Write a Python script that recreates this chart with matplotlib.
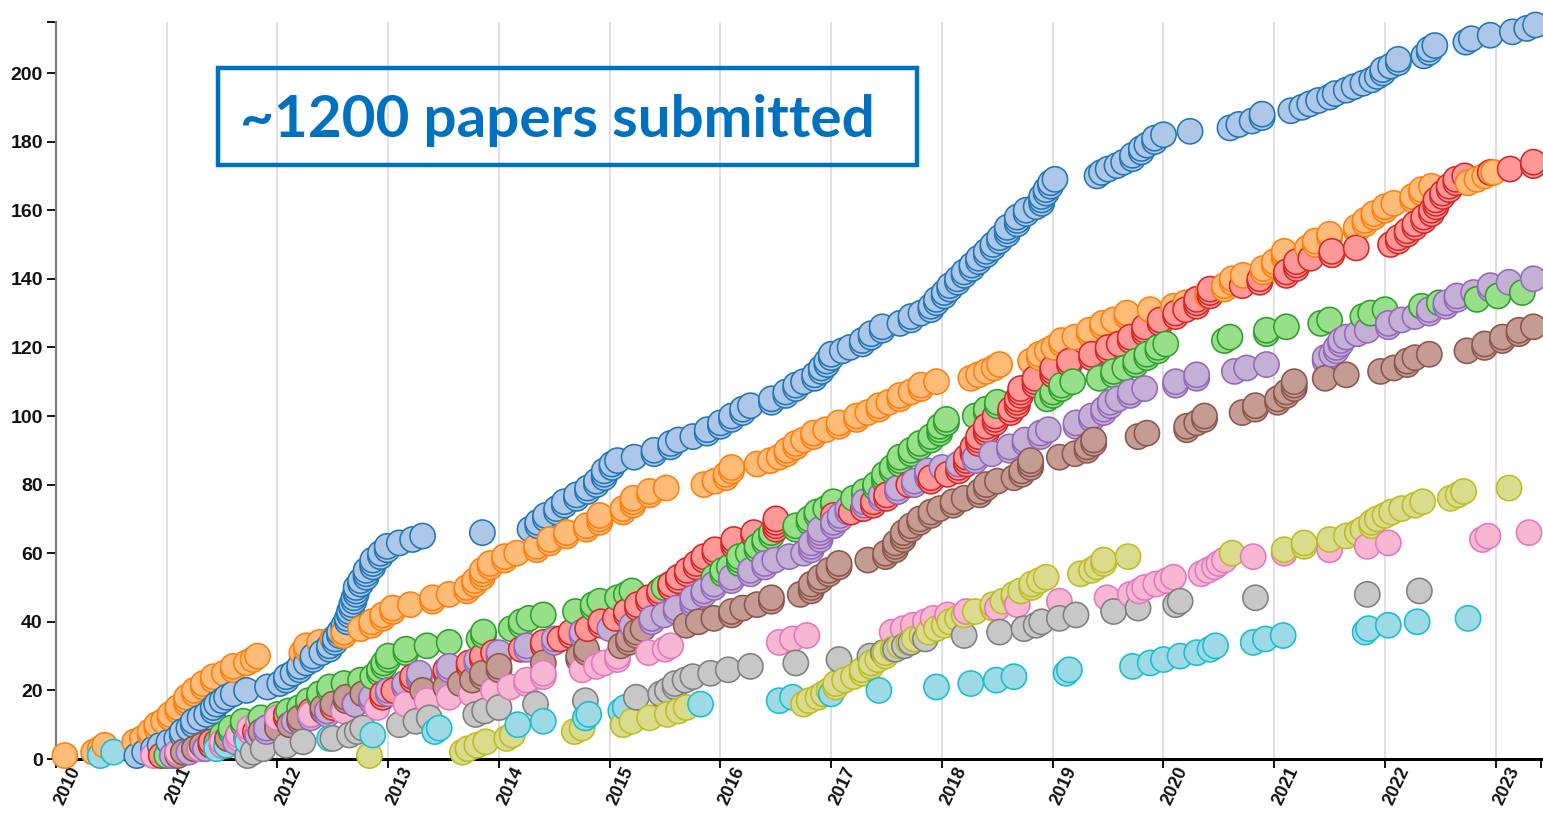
import numpy as np
import matplotlib
matplotlib.use('Agg')
import matplotlib.pyplot as plt
from matplotlib.patches import Rectangle
from matplotlib.transforms import ScaledTranslation

# each series: submission dates (decimal years) and the running paper total at that date
blue_dates = [2010.73, 2010.80, 2010.88, 2010.94, 2011.02, 2011.09, 2011.14, 2011.20, 2011.24, 2011.30,
              2011.36, 2011.42, 2011.45, 2011.50, 2011.54, 2011.60, 2011.72, 2011.91, 2012.02, 2012.08,
              2012.14, 2012.20, 2012.26, 2012.32, 2012.40, 2012.47, 2012.52, 2012.56, 2012.60, 2012.63,
              2012.65, 2012.67, 2012.69, 2012.71, 2012.75, 2012.80, 2012.86, 2012.93, 2012.99, 2013.10,
              2013.22, 2013.31, 2013.85, 2014.28, 2014.35, 2014.42, 2014.52, 2014.59, 2014.70, 2014.80,
              2014.88, 2014.95, 2015.02, 2015.07, 2015.22, 2015.40, 2015.55, 2015.62, 2015.75, 2015.88,
              2016.00, 2016.10, 2016.20, 2016.27, 2016.46, 2016.59, 2016.68, 2016.75, 2016.85, 2016.91,
              2016.96, 2017.00, 2017.10, 2017.17, 2017.28, 2017.36, 2017.46, 2017.62, 2017.72, 2017.81,
              2017.90, 2017.95, 2018.02, 2018.07, 2018.14, 2018.20, 2018.27, 2018.33, 2018.40, 2018.46,
              2018.52, 2018.59, 2018.68, 2018.76, 2018.85, 2018.90, 2018.94, 2018.98, 2019.02, 2019.40,
              2019.44, 2019.50, 2019.58, 2019.64, 2019.72, 2019.80, 2019.85, 2019.92, 2020.00, 2020.24,
              2020.60, 2020.68, 2020.80, 2020.89, 2021.15, 2021.25, 2021.32, 2021.40, 2021.50, 2021.55,
              2021.65, 2021.72, 2021.80, 2021.88, 2021.93, 2021.98, 2022.05, 2022.12, 2022.35, 2022.40,
              2022.45, 2022.73, 2022.78, 2022.95, 2023.15, 2023.28, 2023.36]
blue_total = [1, 2, 3, 4, 5, 6, 8, 9, 11, 12,
              13, 15, 16, 17, 18, 19, 20, 21, 22, 24,
              25, 27, 28, 30, 31, 33, 35, 37, 39, 41,
              43, 45, 47, 50, 52, 55, 58, 60, 62, 63,
              64, 65, 66, 67, 69, 71, 73, 75, 77, 79,
              81, 84, 86, 87, 88, 90, 92, 93, 94, 96,
              98, 100, 102, 103, 105, 107, 109, 110, 112, 114,
              116, 118, 119, 120, 122, 124, 126, 127, 129, 130,
              132, 134, 136, 138, 140, 142, 144, 146, 148, 150,
              152, 155, 158, 160, 161, 164, 166, 168, 169, 170,
              171, 172, 173, 174, 176, 178, 179, 181, 182, 183,
              184, 185, 186, 188, 189, 190, 191, 192, 193, 194,
              195, 196, 197, 198, 199, 201, 202, 204, 205, 207,
              208, 209, 210, 211, 212, 213, 214]

orange_dates = [2010.08, 2010.34, 2010.40, 2010.44, 2010.71, 2010.78, 2010.85, 2010.91, 2010.97, 2011.03,
                2011.10, 2011.18, 2011.25, 2011.33, 2011.42, 2011.52, 2011.60, 2011.72, 2011.78, 2011.82,
                2012.22, 2012.26, 2012.38, 2012.50, 2012.60, 2012.75, 2012.85, 2012.95, 2013.04, 2013.20,
                2013.40, 2013.55, 2013.71, 2013.78, 2013.85, 2013.92, 2014.05, 2014.16, 2014.34, 2014.46,
                2014.61, 2014.79, 2014.91, 2015.12, 2015.21, 2015.36, 2015.51, 2015.85, 2015.95, 2016.05,
                2016.10, 2016.33, 2016.45, 2016.53, 2016.60, 2016.68, 2016.75, 2016.84, 2016.95, 2017.07,
                2017.23, 2017.33, 2017.43, 2017.52, 2017.62, 2017.72, 2017.81, 2017.95, 2018.26, 2018.33,
                2018.40, 2018.47, 2018.52, 2018.80, 2018.88, 2018.95, 2019.01, 2019.08, 2019.20, 2019.33,
                2019.45, 2019.55, 2019.67, 2019.88, 2020.09, 2020.20, 2020.30, 2020.40, 2020.55, 2020.62,
                2020.72, 2020.90, 2021.00, 2021.09, 2021.30, 2021.37, 2021.50, 2021.74, 2021.82, 2021.90,
                2022.00, 2022.08, 2022.25, 2022.33, 2022.42, 2022.75, 2022.83, 2022.90, 2022.98]
orange_total = [1, 2, 3, 4, 5, 6, 8, 10, 11, 13,
                15, 18, 20, 22, 24, 25, 27, 28, 29, 30,
                31, 33, 34, 35, 37, 38, 40, 42, 44, 45,
                47, 48, 50, 52, 55, 57, 59, 60, 62, 64,
                66, 68, 71, 73, 76, 78, 79, 80, 81, 83,
                85, 86, 87, 88, 90, 92, 93, 95, 96, 98,
                100, 101, 103, 104, 106, 107, 109, 110, 111, 112,
                113, 114, 115, 116, 118, 119, 120, 122, 123, 125,
                127, 128, 130, 131, 132, 133, 134, 136, 138, 140,
                141, 143, 145, 148, 149, 151, 153, 155, 157, 159,
                161, 162, 164, 166, 167, 168, 169, 170, 171]

red_dates = [2010.95, 2011.10, 2011.25, 2011.40, 2011.55, 2011.65, 2011.80, 2011.90, 2012.00, 2012.08,
             2012.30, 2012.50, 2012.70, 2012.85, 2012.95, 2013.05, 2013.15, 2013.22, 2013.52, 2013.73,
             2013.85, 2013.95, 2014.20, 2014.40, 2014.55, 2014.65, 2014.80, 2014.92, 2015.05, 2015.15,
             2015.25, 2015.35, 2015.45, 2015.55, 2015.62, 2015.70, 2015.78, 2015.85, 2015.95, 2016.12,
             2016.30, 2016.50, 2017.02, 2017.18, 2017.29, 2017.38, 2017.50, 2017.60, 2017.70, 2017.90,
             2018.05, 2018.15, 2018.22, 2018.28, 2018.33, 2018.40, 2018.48, 2018.62, 2018.68, 2018.71,
             2018.84, 2019.00, 2019.15, 2019.35, 2019.50, 2019.60, 2019.70, 2019.83, 2019.97, 2020.11,
             2020.20, 2020.30, 2020.42, 2020.71, 2020.87, 2021.11, 2021.20, 2021.33, 2021.52, 2021.74,
             2022.05, 2022.12, 2022.20, 2022.27, 2022.35, 2022.42, 2022.46, 2022.52, 2022.58, 2022.64,
             2022.72, 2022.95, 2023.13, 2023.34]
red_total = [1, 2, 3, 5, 6, 7, 8, 9, 11, 13,
             14, 15, 16, 17, 19, 20, 22, 24, 26, 28,
             30, 31, 32, 34, 35, 37, 38, 40, 41, 43,
             45, 47, 49, 51, 53, 55, 57, 59, 61, 64,
             66, 70, 71, 72, 73, 75, 77, 79, 80, 82,
             83, 85, 88, 91, 94, 97, 100, 102, 105, 108,
             111, 114, 116, 118, 120, 121, 123, 126, 128, 130,
             131, 134, 137, 138, 140, 142, 145, 146, 148, 149,
             150, 152, 154, 156, 158, 160, 163, 165, 167, 169,
             170, 171, 172, 174]

green_dates = [2011.00, 2011.15, 2011.30, 2011.40, 2011.50, 2011.58, 2011.69, 2011.85, 2012.00, 2012.10,
               2012.20, 2012.28, 2012.38, 2012.47, 2012.60, 2012.75, 2012.86, 2012.92, 2012.96, 2013.00,
               2013.16, 2013.35, 2013.55, 2013.82, 2013.86, 2014.11, 2014.20, 2014.27, 2014.40, 2014.69,
               2014.85, 2014.91, 2015.07, 2015.15, 2015.20, 2015.49, 2015.55, 2015.62, 2015.94, 2016.02,
               2016.08, 2016.17, 2016.25, 2016.33, 2016.40, 2016.46, 2016.68, 2016.80, 2016.87, 2016.95,
               2017.02, 2017.20, 2017.30, 2017.40, 2017.48, 2017.55, 2017.62, 2017.72, 2017.80, 2017.90,
               2017.98, 2018.04, 2018.30, 2018.40, 2018.50, 2018.95, 2019.00, 2019.08, 2019.18, 2019.42,
               2019.55, 2019.65, 2019.75, 2019.85, 2019.95, 2020.02, 2020.55, 2020.60, 2020.93, 2021.11,
               2021.42, 2021.50, 2021.80, 2021.87, 2022.00, 2022.33, 2022.49, 2022.83, 2023.02, 2023.24]
green_total = [1, 2, 3, 5, 7, 9, 11, 12, 13, 14,
               15, 17, 19, 21, 22, 23, 24, 26, 28, 30,
               32, 33, 34, 35, 37, 38, 40, 41, 42, 43,
               45, 46, 47, 48, 49, 50, 51, 52, 53, 55,
               56, 59, 60, 62, 64, 66, 68, 70, 72, 73,
               75, 76, 78, 80, 83, 85, 88, 90, 92, 94,
               97, 99, 100, 102, 104, 105, 107, 109, 110, 111,
               113, 114, 116, 118, 120, 121, 122, 123, 125, 126,
               127, 128, 129, 130, 131, 132, 133, 134, 135, 136]

purple_dates = [2011.05, 2011.20, 2011.35, 2011.50, 2011.62, 2011.72, 2011.82, 2011.90, 2012.00, 2012.15,
                2012.30, 2012.45, 2012.60, 2012.70, 2012.85, 2013.00, 2013.15, 2013.28, 2013.55, 2013.80,
                2014.00, 2014.25, 2014.50, 2014.75, 2015.00, 2015.20, 2015.38, 2015.49, 2015.60, 2015.75,
                2015.85, 2015.94, 2016.10, 2016.27, 2016.40, 2016.49, 2016.62, 2016.75, 2016.82, 2016.90,
                2017.02, 2017.08, 2017.15, 2017.30, 2017.45, 2017.60, 2017.75, 2017.87, 2018.00, 2018.15,
                2018.30, 2018.45, 2018.61, 2018.75, 2018.89, 2018.96, 2019.21, 2019.35, 2019.46, 2019.52,
                2019.59, 2019.70, 2019.83, 2020.11, 2020.30, 2020.64, 2020.75, 2020.93, 2021.46, 2021.52,
                2021.56, 2021.60, 2021.65, 2021.75, 2021.84, 2022.03, 2022.15, 2022.27, 2022.40, 2022.55,
                2022.65, 2022.80, 2022.95, 2023.12, 2023.34]
purple_total = [1, 2, 3, 4, 5, 6, 7, 9, 10, 11,
                12, 14, 15, 16, 18, 20, 22, 25, 27, 29,
                31, 33, 35, 37, 38, 39, 41, 42, 44, 47,
                49, 51, 53, 55, 57, 58, 59, 60, 63, 67,
                69, 71, 73, 75, 77, 79, 81, 84, 85, 86,
                88, 89, 91, 93, 95, 96, 98, 100, 102, 104,
                105, 107, 108, 110, 112, 113, 114, 115, 117, 118,
                120, 122, 123, 124, 125, 127, 128, 129, 131, 133,
                135, 136, 138, 139, 140]

brown_dates = [2011.10, 2011.15, 2011.25, 2011.32, 2011.45, 2011.55, 2011.65, 2011.85, 2012.00, 2012.11,
               2012.20, 2012.30, 2012.41, 2012.50, 2012.62, 2012.77, 2013.31, 2013.52, 2013.65, 2013.76,
               2013.85, 2014.00, 2014.40, 2014.72, 2014.79, 2015.10, 2015.17, 2015.24, 2015.30, 2015.69,
               2015.80, 2015.94, 2016.10, 2016.20, 2016.33, 2016.46, 2016.72, 2016.82, 2016.90, 2016.98,
               2017.07, 2017.33, 2017.49, 2017.58, 2017.65, 2017.72, 2017.80, 2017.90, 2017.98, 2018.10,
               2018.20, 2018.34, 2018.40, 2018.50, 2018.65, 2018.72, 2018.80, 2019.06, 2019.20, 2019.31,
               2019.37, 2019.77, 2019.85, 2020.21, 2020.30, 2020.37, 2020.71, 2020.83, 2021.03, 2021.11,
               2021.18, 2021.46, 2021.65, 2021.96, 2022.08, 2022.20, 2022.27, 2022.40, 2022.74, 2022.90,
               2023.06, 2023.21, 2023.34]
brown_total = [1, 2, 3, 4, 5, 6, 7, 8, 9, 10,
               12, 13, 15, 16, 18, 19, 20, 21, 22, 23,
               25, 27, 28, 30, 32, 33, 35, 37, 38, 39,
               40, 41, 43, 44, 45, 47, 48, 51, 53, 55,
               57, 58, 60, 63, 66, 68, 70, 72, 73, 75,
               76, 78, 80, 81, 82, 84, 87, 88, 89, 91,
               93, 94, 95, 97, 98, 100, 101, 103, 105, 107,
               110, 111, 112, 113, 114, 116, 117, 118, 119, 121,
               123, 125, 126]

pink_dates = [2010.88, 2011.10, 2011.30, 2011.50, 2011.65, 2011.75, 2011.83, 2012.00, 2012.30, 2012.60,
              2012.90, 2013.16, 2013.35, 2013.55, 2013.75, 2013.95, 2014.10, 2014.25, 2014.40, 2014.75,
              2014.88, 2014.95, 2015.07, 2015.35, 2015.50, 2015.55, 2016.53, 2016.65, 2016.78, 2017.55,
              2017.65, 2017.74, 2017.85, 2017.92, 2018.05, 2018.22, 2018.50, 2018.68, 2019.06, 2019.49,
              2019.70, 2019.78, 2019.83, 2019.93, 2020.03, 2020.09, 2020.34, 2020.40, 2020.46, 2020.50,
              2020.55, 2020.81, 2021.09, 2021.50, 2021.84, 2022.03, 2022.88, 2022.93, 2023.30]
pink_total = [1, 2, 3, 5, 7, 9, 11, 12, 13, 14,
              15, 16, 17, 18, 19, 20, 21, 23, 25, 26,
              27, 28, 30, 31, 32, 33, 34, 35, 36, 37,
              38, 39, 40, 41, 42, 43, 44, 45, 46, 47,
              48, 49, 50, 51, 52, 53, 54, 55, 56, 57,
              58, 59, 60, 61, 62, 63, 64, 65, 66]

grey_dates = [2011.73, 2011.78, 2011.87, 2012.08, 2012.23, 2012.50, 2012.65, 2012.72, 2012.77, 2013.10,
              2013.25, 2013.37, 2013.79, 2013.87, 2014.00, 2014.33, 2014.78, 2015.24, 2015.46, 2015.52,
              2015.59, 2015.68, 2015.75, 2015.91, 2016.07, 2016.27, 2016.68, 2017.07, 2017.35, 2017.47,
              2017.58, 2017.66, 2017.72, 2017.85, 2018.20, 2018.52, 2018.74, 2018.85, 2018.90, 2019.06,
              2019.21, 2019.55, 2019.77, 2020.11, 2020.15, 2020.83, 2021.84, 2022.31]
grey_total = [1, 2, 3, 4, 5, 6, 7, 8, 9, 10,
              11, 12, 13, 14, 15, 16, 17, 18, 19, 20,
              22, 23, 24, 25, 26, 27, 28, 29, 30, 31,
              32, 33, 34, 35, 36, 37, 38, 39, 40, 41,
              42, 43, 44, 45, 46, 47, 48, 49]

olive_dates = [2012.83, 2013.67, 2013.72, 2013.80, 2013.88, 2014.07, 2014.12, 2014.68, 2014.75, 2015.12,
               2015.20, 2015.36, 2015.52, 2015.62, 2015.69, 2016.75, 2016.80, 2016.88, 2016.93, 2016.98,
               2017.04, 2017.12, 2017.20, 2017.28, 2017.36, 2017.42, 2017.49, 2017.56, 2017.62, 2017.70,
               2017.75, 2017.82, 2017.88, 2017.95, 2018.02, 2018.07, 2018.14, 2018.20, 2018.30, 2018.46,
               2018.55, 2018.65, 2018.71, 2018.81, 2018.88, 2018.94, 2019.25, 2019.35, 2019.40, 2019.46,
               2019.68, 2020.62, 2021.09, 2021.27, 2021.50, 2021.65, 2021.75, 2021.80, 2021.88, 2021.93,
               2022.00, 2022.06, 2022.15, 2022.27, 2022.34, 2022.59, 2022.66, 2022.71, 2023.12]
olive_total = [1, 2, 3, 4, 5, 6, 7, 8, 9, 10,
               11, 12, 13, 14, 15, 16, 17, 18, 19, 20,
               22, 23, 24, 26, 28, 29, 31, 32, 33, 34,
               35, 36, 37, 38, 39, 40, 41, 42, 43, 45,
               46, 48, 49, 51, 52, 53, 54, 55, 56, 58,
               59, 60, 61, 63, 64, 65, 66, 67, 69, 70,
               71, 72, 73, 74, 75, 76, 77, 78, 79]

cyan_dates = [2010.40, 2010.52, 2011.45, 2011.54, 2011.73, 2012.47, 2012.86, 2013.42, 2013.46, 2014.17,
              2014.40, 2014.78, 2014.81, 2015.10, 2015.14, 2015.82, 2016.53, 2016.65, 2017.00, 2017.43,
              2017.95, 2018.26, 2018.49, 2018.65, 2019.12, 2019.15, 2019.72, 2019.88, 2020.00, 2020.15,
              2020.30, 2020.42, 2020.47, 2020.81, 2020.92, 2021.08, 2021.82, 2021.85, 2022.03, 2022.29,
              2022.75]
cyan_total = list(range(1, 42))

years = list(range(2010, 2024))
y_ticks = list(range(0, 201, 20))

series = [
    (blue_dates, blue_total, '#1f77b4', '#aec7e8'),
    (orange_dates, orange_total, '#ff7f0e', '#ffbb78'),
    (green_dates, green_total, '#2ca02c', '#98df8a'),
    (red_dates, red_total, '#d62728', '#ff9896'),
    (purple_dates, purple_total, '#9467bd', '#c5b0d5'),
    (brown_dates, brown_total, '#8c564b', '#c49c94'),
    (pink_dates, pink_total, '#e377c2', '#f7b6d2'),
    (grey_dates, grey_total, '#7f7f7f', '#c7c7c7'),
    (olive_dates, olive_total, '#bcbd22', '#dbdb8d'),
    (cyan_dates, cyan_total, '#17becf', '#9edae5'),
]

plt.rcParams['font.family'] = ['Liberation Sans', 'DejaVu Sans']
plt.rcParams['font.weight'] = 'bold'

xs, ys, ecs, fcs = [], [], [], []
for dates, total, ec, fc in series:
    counts = np.diff(np.concatenate([[0], total]))
    xs.append(np.repeat(dates, counts))
    ys.append(np.arange(1, total[-1] + 1))
    ecs += [ec] * total[-1]
    fcs += [fc] * total[-1]
x = np.concatenate(xs)
y = np.concatenate(ys)
ecs = np.array(ecs)
fcs = np.array(fcs)
order = np.argsort(x, kind='stable')  # later submissions drawn on top

W, H = 1543, 813
fig = plt.figure(figsize=(W / 100, H / 100), dpi=100)
ax = fig.add_axes([56 / W, 54 / H, 1485 / W, 737 / H])

ax.scatter(x[order], y[order], s=330, c=fcs[order], edgecolors=ecs[order],
           linewidths=1.15, zorder=3, clip_on=False)

x_max = 2010 + 1485 / 110.75
y_max = 737 / 3.43
ax.set_xlim(2010, x_max)
ax.set_ylim(0, y_max)

ax.set_xticks(years)
ax.set_xticklabels([str(v) for v in years])
ax.set_yticks(y_ticks)
ax.set_xticks([x_max], minor=True)
ax.set_yticks([y_max], minor=True)
ax.grid(axis='x', which='major', color='#dddddd', lw=1.3, zorder=0)
ax.set_axisbelow(True)

for side in ['top', 'right']:
    ax.spines[side].set_visible(False)
ax.spines['left'].set_color('#7a7a7a')
ax.spines['left'].set_linewidth(1.5)
ax.spines['bottom'].set_color('#000000')
ax.spines['bottom'].set_linewidth(2.2)

ax.tick_params(axis='both', which='both', length=6.5, width=1.3, color='black', labelcolor='#111111')
ax.tick_params(axis='y', pad=3.0, labelsize=14)
ax.tick_params(axis='x', pad=0, labelsize=13)
shift = ScaledTranslation(0.20, 0.0, fig.dpi_scale_trans)
for lbl in ax.get_xticklabels():
    lbl.set_rotation(65)
    lbl.set_rotation_mode('anchor')
    lbl.set_ha('right')
    lbl.set_va('center')
    lbl.set_transform(lbl.get_transform() + shift)

fig.patches.append(Rectangle((218 / W, 1 - 165 / H), 699 / W, 97 / H, transform=fig.transFigure,
                             fill=False, edgecolor='#0070C0', linewidth=3.2, zorder=5))
fig.text(240 / W, 1 - 137 / H, '~1200 papers submitted', fontsize=42, fontweight='bold',
         family='Lato', color='#0070C0', ha='left', va='baseline', zorder=6)

fig.savefig('out.png', dpi=100)
